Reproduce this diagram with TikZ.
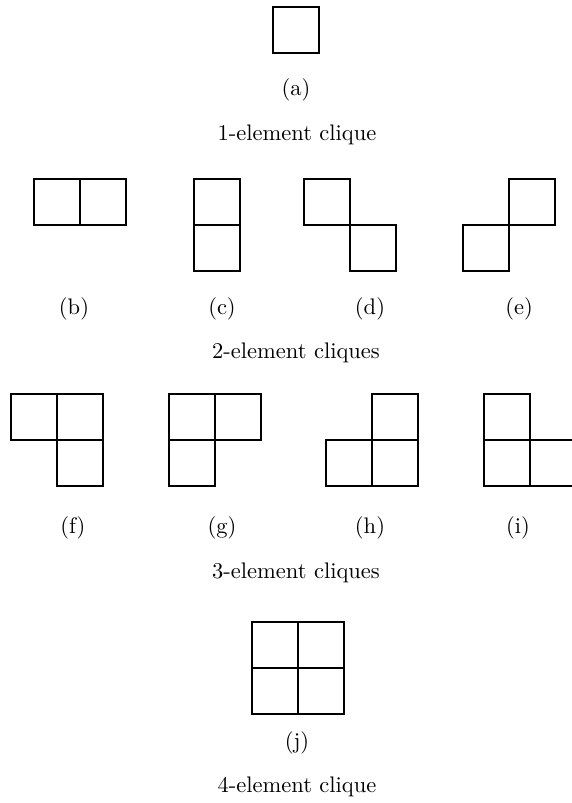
\documentclass[tikz,border=0pt]{standalone}
\begin{document}
\begin{tikzpicture}[x=1pt,y=-1pt,line width=1.2pt,
    lbl/.style={font=\fontsize{10}{12}\selectfont,scale=2.25}]
    \useasboundingbox (0,0) rectangle (571,803);
    \def\s{46}
    % (a)
    \draw (273,7) rectangle ++(\s,\s);
    \node[lbl] (la) at (296,90) {(a)};
    \node[lbl] (ta) at (297,135) {1-element clique};
    % two cells
    \foreach \x/\y in {34/179,80/179, 194/179,194/225, 304/179,350/225, 509/179,463/225}
        \draw (\x,\y) rectangle ++(\s,\s);
    \node[lbl] (lb) at (74,309) {(b)};
    \node[lbl] (lc) at (222,309) {(c)};
    \node[lbl] (ld) at (370,309) {(d)};
    \node[lbl] (le) at (519,309) {(e)};
    \node[lbl] (tb) at (296,353) {2-element cliques};
    % three cells
    \foreach \x/\y in {11/394,57/394,57/440, 169/394,215/394,169/440,
                       372/394,326/440,372/440, 484/394,484/440,530/440}
        \draw (\x,\y) rectangle ++(\s,\s);
    \node[lbl] (lf) at (73,528) {(f)};
    \node[lbl] (lg) at (222,528) {(g)};
    \node[lbl] (lh) at (370,528) {(h)};
    \node[lbl] (li) at (518,528) {(i)};
    \node[lbl] (tf) at (296,573) {3-element cliques};
    % four cells
    \foreach \x/\y in {252/622,298/622,252/668,298/668}
        \draw (\x,\y) rectangle ++(\s,\s);
    \node[lbl] (lj) at (297,743) {(j)};
    \node[lbl] (tj) at (297,787) {4-element clique};
\end{tikzpicture}
\end{document}
